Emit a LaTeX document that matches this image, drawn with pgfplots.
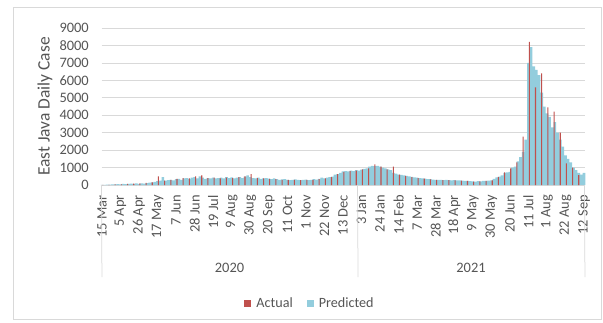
\documentclass[border=0pt]{standalone}
\usepackage{fontspec}
\setmainfont{Carlito}
\usepackage{pgfplots}
\pgfplotsset{compat=1.18}
\usepackage{pgfplotstable}
\definecolor{txt}{HTML}{555555}
\definecolor{gridc}{HTML}{D9D9D9}
\definecolor{act}{HTML}{C0504D}
\definecolor{pred}{HTML}{93CDDD}

% day index: 0 = 15 Mar 2020, 546 = 12 Sep 2021
\pgfplotstableread{
d v
0 5
3 10
6 15
9 20
12 30
15 40
18 50
21 40
24 60
27 50
30 70
33 80
36 60
39 90
42 70
45 100
48 80
51 110
54 130
57 150
60 180
63 220
66 250
69 450
72 250
75 280
78 300
81 260
84 330
87 350
90 300
93 380
96 400
99 350
102 420
105 450
108 380
111 500
114 420
117 350
120 400
123 380
126 420
129 380
132 400
135 420
138 380
141 450
144 400
147 430
150 380
153 420
156 450
159 400
162 480
165 550
168 450
171 400
174 380
177 420
180 350
183 380
186 400
189 360
192 340
195 380
198 330
201 300
204 320
207 340
210 300
213 280
216 300
219 320
222 290
225 280
228 300
231 310
234 280
237 300
240 330
243 310
246 350
249 420
252 380
255 420
258 450
261 480
264 600
267 620
270 700
273 780
276 800
279 780
282 820
285 800
288 850
291 830
294 880
297 920
300 950
303 1050
306 1100
309 1080
312 1100
315 1050
318 1000
321 950
324 900
327 850
330 700
333 650
336 600
339 580
342 550
345 520
348 500
351 460
354 440
357 420
360 400
363 380
366 370
369 340
372 330
375 310
378 300
381 300
384 290
387 280
390 290
393 280
396 270
399 280
402 270
405 260
408 250
411 240
414 230
417 220
420 210
423 200
426 220
429 210
432 230
435 240
438 250
441 260
444 350
447 440
450 480
453 550
456 700
459 730
462 750
465 1000
468 1050
471 1350
474 1600
477 1900
480 2600
483 7000
486 7900
489 6800
492 6600
495 6300
498 5300
501 4500
504 4100
507 3900
510 3300
513 3600
516 3000
519 2600
522 2200
525 1700
528 1500
531 1300
534 1000
537 850
540 700
543 600
546 700
}\predtab

\pgfplotstableread{
d v
1 5
8 10
15 30
22 40
29 60
36 80
43 90
50 120
57 150
64 500
71 250
78 300
85 350
92 400
99 380
106 500
113 550
120 400
127 420
134 380
141 420
148 400
155 450
162 500
169 630
176 400
183 380
190 350
197 330
204 300
211 290
218 300
225 280
232 290
239 300
246 330
253 380
260 450
267 620
274 750
281 800
288 820
295 900
302 950
309 1180
316 1050
323 900
330 1050
337 600
344 520
351 450
358 400
365 360
372 320
379 300
386 280
393 280
400 270
407 250
414 230
421 200
428 210
435 230
442 270
449 450
456 720
463 950
470 1300
477 2770
484 8200
491 5600
498 6400
505 4450
512 4200
519 3000
526 1240
533 1000
540 570
}\acttab

\begin{document}
\begin{tikzpicture}
\path[use as bounding box] (-101.5bp,-138bp) rectangle (501.5bp,185bp);
\draw[gridc, line width=0.75bp] (-88.5bp,178bp) rectangle (499.5bp,-134bp);
\begin{axis}[
  at={(0,0)}, anchor=south west,
  scale only axis, width=483bp, height=157bp,
  xmin=-0.5, xmax=546.5, ymin=0, ymax=9000,
  clip=false,
  axis line style={draw=none},
  ymajorgrids, grid style={gridc, line width=0.75bp},
  ytick={0,1000,...,9000},
  yticklabels={0,1000,2000,3000,4000,5000,6000,7000,8000,9000},
  xtick={0,21,...,546},
  xticklabels={15 Mar,5 Apr,26 Apr,17 May,7 Jun,28 Jun,19 Jul,9 Aug,30 Aug,20 Sep,11 Oct,1 Nov,22 Nov,13 Dec,3 Jan,24 Jan,14 Feb,7 Mar,28 Mar,18 Apr,9 May,30 May,20 Jun,11 Jul,1 Aug,22 Aug,12 Sep},
  major tick length=0pt,
  tick style={draw=none},
  ticklabel style={font=\fontsize{14.5}{16}\selectfont, text=txt},
  yticklabel style={anchor=east, inner sep=0pt, xshift=-12.5bp},
  xticklabel style={yshift=-10bp, rotate=90, anchor=east, inner sep=0pt},
  legend style={at={(axis description cs:0.4317,-0.7516)}, anchor=center,
    draw=none, fill=none, legend columns=2, inner sep=0pt,
    font=\fontsize{14.2}{16}\selectfont, text=txt,
    /tikz/every odd column/.append style={column sep=3bp},
    /tikz/every even column/.append style={column sep=12bp}},
  legend image code/.code={\fill[#1, draw=none] (0bp,-3.5bp) rectangle (7bp,3.5bp);},
]
\addlegendimage{fill=act}
\addlegendentry{Actual}
\addlegendimage{fill=pred}
\addlegendentry{Predicted}
\addplot[ybar, bar width=3, bar shift=0pt, fill=pred, draw=none, forget plot] table[x=d, y=v] {\predtab};
\addplot[ybar, bar width=1.2, bar shift=0pt, fill=act, draw=none, forget plot] table[x=d, y=v] {\acttab};
\draw[gridc, line width=0.75bp] (axis cs:-0.5,0) -- ++(0,-92bp);
\draw[gridc, line width=0.75bp] (axis cs:289.5,0) -- ++(0,-92bp);
\draw[gridc, line width=0.75bp] (axis cs:546.5,0) -- ++(0,-92bp);
\node[text=txt, font=\fontsize{14.5}{16}\selectfont] at (axis cs:144.5,0) [yshift=-83bp] {2020};
\node[text=txt, font=\fontsize{14.5}{16}\selectfont] at (axis cs:418,0) [yshift=-83bp] {2021};
\end{axis}
\node[rotate=90, text=txt, font=\fontsize{17.5}{19}\selectfont] at (-56.5bp,78.5bp) {East Java Daily Case};
\end{tikzpicture}
\end{document}
